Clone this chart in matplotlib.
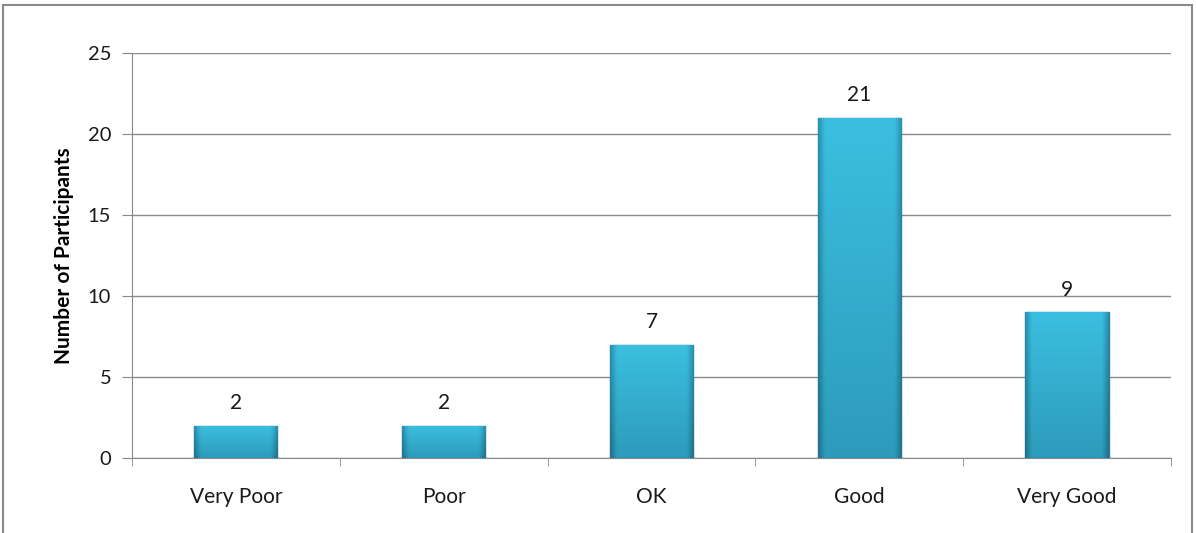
import numpy as np
import matplotlib.pyplot as plt
from matplotlib.patches import Rectangle
from matplotlib.colors import LinearSegmentedColormap

# data
categories = ['Very Poor', 'Poor', 'OK', 'Good', 'Very Good']
participants = [2, 2, 7, 21, 9]
y_ticks = [0, 5, 10, 15, 20, 25]

plt.rcParams['font.family'] = ['Lato', 'DejaVu Sans']

fig = plt.figure(figsize=(11.96, 5.33), dpi=100, facecolor='white')
ax = fig.add_axes([0.1104, 0.1407, 0.8686, 0.76])

x = np.arange(len(categories))
bars = ax.bar(x, participants, width=0.4, color='#33b4d6',
              edgecolor='#2a7f99', linewidth=1.0, zorder=3)

# soft bevel: darker near the side edges, darker towards the bottom
s = np.linspace(0, 1, 80)
edge = np.clip(np.minimum(s, 1 - s) / 0.08, 0, 1)
hgrad = 0.82 + 0.18 * edge
vgrad = np.linspace(0.86, 1.0, 80)[:, None]
img = hgrad[None, :] * vgrad
cmap = LinearSegmentedColormap.from_list('bar', ['#1f6f88', '#2c98b8', '#3bbfe0'])
for b in bars:
    x0, y0 = b.get_x(), b.get_y()
    w, h = b.get_width(), b.get_height()
    im = ax.imshow(img, extent=[x0, x0 + w, y0, y0 + h], cmap=cmap,
                   vmin=0.7, vmax=1.0, aspect='auto', origin='lower', zorder=3.5)
    im.set_clip_path(b)

for xi, v in zip(x, participants):
    ax.annotate(str(v), (xi, v), xytext=(0, 9), textcoords='offset points',
                ha='center', va='bottom', fontsize=15, color='#1a1a1a')

ax.set_xlim(-0.5, len(categories) - 0.5)
ax.set_ylim(0, 25)
ax.set_yticks(y_ticks)
ax.set_xticks(x)
ax.set_xticklabels(categories, fontsize=15, color='#1a1a1a')
ax.set_xticks(np.arange(-0.5, len(categories)), minor=True)
ax.tick_params(axis='x', which='major', length=0, pad=21)
ax.tick_params(axis='x', which='minor', length=6, color='#888888', direction='out')
ax.tick_params(axis='y', labelsize=14.5, labelcolor='#1a1a1a', length=7,
               color='#888888', pad=8)
ax.grid(axis='y', color='#8c8c8c', linewidth=1.0, zorder=0)
ax.set_axisbelow(True)

for sp in ['top', 'right']:
    ax.spines[sp].set_visible(False)
ax.spines['left'].set_color('#888888')
ax.spines['bottom'].set_color('#888888')

ax.set_ylabel('Number of Participants', fontsize=15, fontweight='bold', labelpad=10)

# outer chart frame
fig.add_artist(Rectangle((3 / 1196, -0.02), 1189 / 1196, 0.9906 + 0.02,
                         transform=fig.transFigure, fill=False,
                         edgecolor='#8a8a8a', linewidth=1.5))

fig.savefig('out.png', dpi=100)
